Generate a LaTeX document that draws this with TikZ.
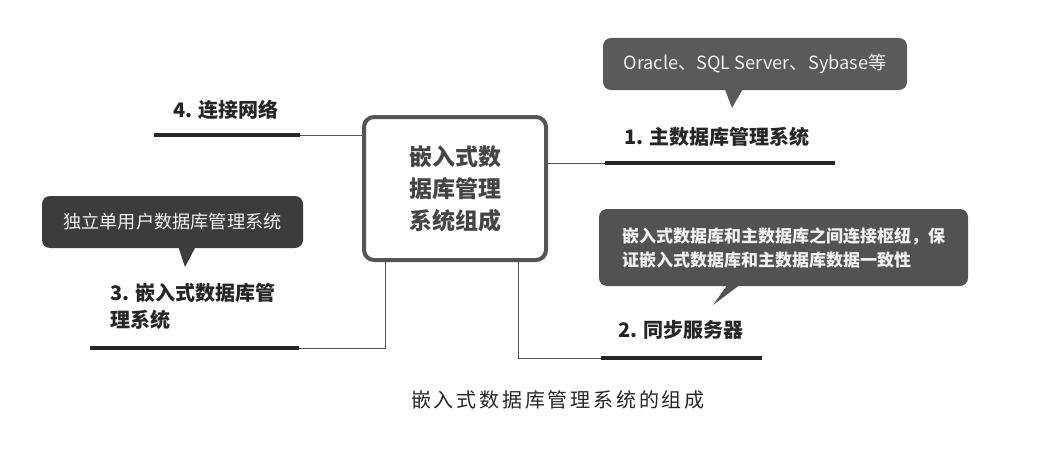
\documentclass[tikz,border=0pt]{standalone}
\usepackage{fontspec}
\setmainfont{Noto Sans CJK SC}
\newfontfamily\cjk{Noto Sans CJK SC}
\newfontfamily\cjkcap[LetterSpace=14]{Noto Sans CJK SC}
\definecolor{boxline}{HTML}{555555}
\definecolor{boxtext}{HTML}{454545}
\definecolor{ink}{HTML}{262626}
\definecolor{tipa}{HTML}{5A5A5A}
\definecolor{tipb}{HTML}{525252}
\definecolor{tipc}{HTML}{3C3C3C}
\tikzset{
    mainbox/.style={draw=boxline, line width=4pt, rounded corners=10pt, fill=white,
        minimum width=182pt, minimum height=143pt, align=center, text=boxtext,
        font=\cjk\bfseries\fontsize{23}{32}\selectfont},
    label/.style={text=ink, inner sep=0pt, font=\cjk\bfseries\fontsize{20}{27}\selectfont},
    tipbox/.style={rounded corners=8pt, text=white!94!black, inner sep=0pt,
        font=\cjk\fontsize{18.2}{24}\selectfont},
    bar/.style={line width=3.5pt, draw=ink},
    link/.style={line width=1pt, draw=boxline}
}
\begin{document}
\begin{tikzpicture}[x=1pt, y=-1pt]
    \useasboundingbox (0,0) rectangle (1040,452);

    % centre box
    \node[mainbox] (main) at (455,188.5) {嵌入式数\\据库管理\\系统组成};

    % 4. network
    \node[label] (n4) at (226,110) {4. 连接网络};
    \coordinate (u4a) at (154,135);
    \coordinate (u4b) at (300,135);
    \draw[bar] (u4a) -- (u4b);
    \draw[link] (u4b) -- (u4b -| main.west);

    % 1. main DBMS
    \fill[tipa] (724,87) -- (732,108) -- (744,87) -- cycle;
    \node[tipbox, fill=tipa, minimum width=304pt, minimum height=52pt] (t1) at (755,64)
        {Oracle、SQL Server、Sybase等};
    \node[label] (n1) at (717,137) {1. 主数据库管理系统};
    \coordinate (u1a) at (605,163);
    \coordinate (u1b) at (835,163);
    \draw[bar] (u1a) -- (u1b);
    \draw[link] (u1a -| main.east) -- (u1a);

    % 3. embedded DBMS
    \fill[tipc] (178,246) -- (185,267) -- (196,246) -- cycle;
    \node[tipbox, fill=tipc, minimum width=261pt, minimum height=52pt] (t3) at (172.5,222)
        {独立单用户数据库管理系统};
    \node[label, anchor=west, align=left] (n3) at (110,306.5) {3. 嵌入式数据库管\\理系统};
    \coordinate (u3a) at (90,348);
    \coordinate (u3b) at (299,348);
    \draw[bar] (u3a) -- (u3b);
    \draw[link] (u3b) -| ([xshift=-70pt]main.south);

    % 2. sync server
    \fill[tipb] (728,284) -- (713,305) -- (741,284) -- cycle;
    \node[tipbox, fill=tipb, minimum width=369pt, minimum height=77pt, align=left,
        font=\cjk\bfseries\fontsize{17}{24}\selectfont] (t2) at (783.5,247.5)
        {嵌入式数据库和主数据库之间连接枢纽，保\\证嵌入式数据库和主数据库数据一致性};
    \node[label] (n2) at (681,330) {2. 同步服务器};
    \coordinate (u2a) at (601,358);
    \coordinate (u2b) at (762,358);
    \draw[bar] (u2a) -- (u2b);
    \draw[link] ([xshift=63pt]main.south) |- (u2a);

    % caption
    \node[text=ink, font=\cjkcap\fontsize{20}{24}\selectfont] (cap) at (558,400)
        {嵌入式数据库管理系统的组成};
\end{tikzpicture}
\end{document}
